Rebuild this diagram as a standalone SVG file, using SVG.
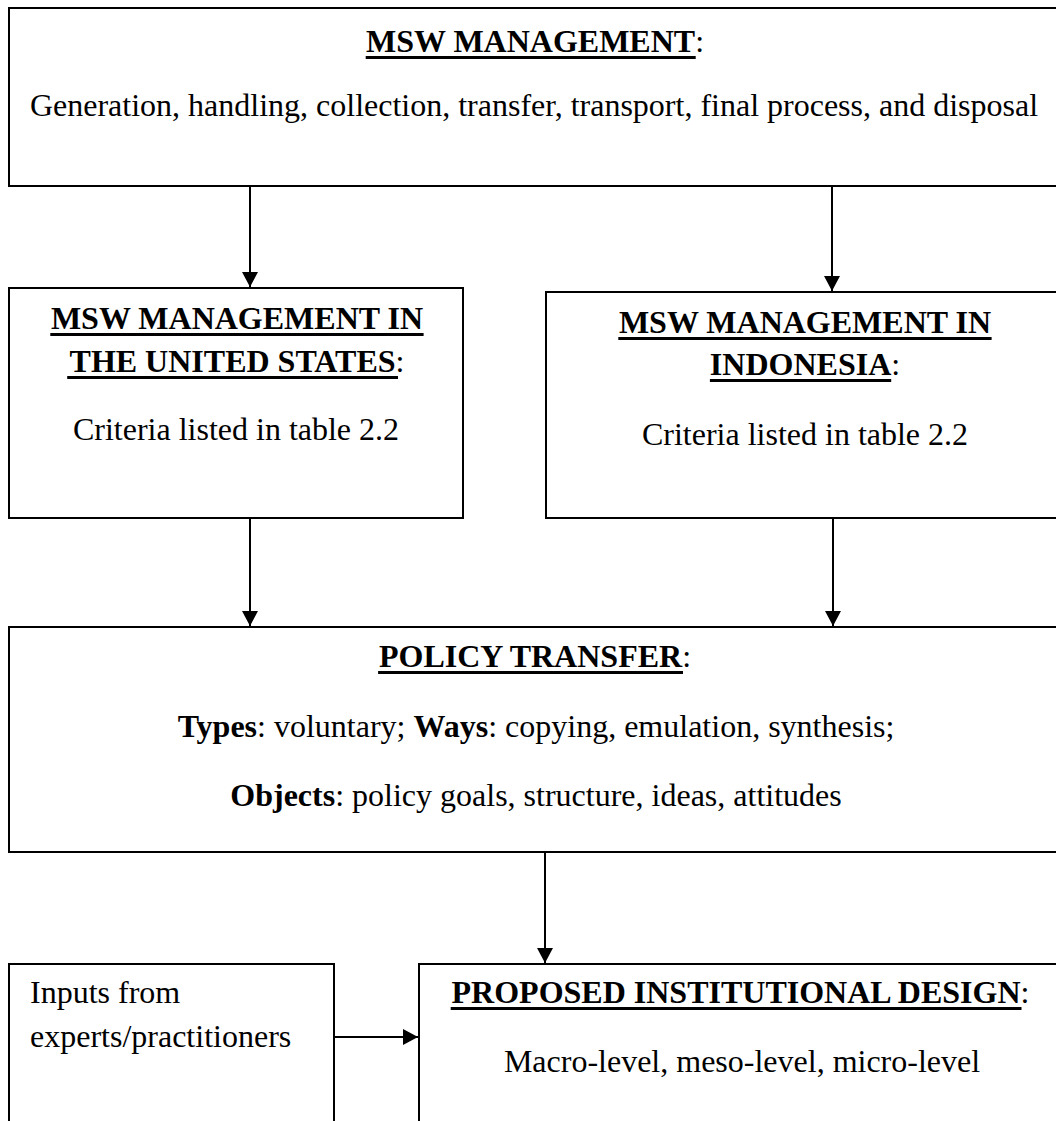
<svg xmlns="http://www.w3.org/2000/svg" width="1056" height="1121" viewBox="0 0 1056 1121">
<defs>
<style>
.box{fill:#fff;stroke:#000;stroke-width:2}
.t{font-family:"Liberation Serif","Times New Roman",serif;font-size:32px;fill:#000}
.b{font-weight:bold}
.c{text-anchor:middle}
.ul{fill:#000}
.conn{stroke:#000;stroke-width:2;fill:none}
</style>
<marker id="ah" markerWidth="15" markerHeight="16" refX="15" refY="8" orient="auto" markerUnits="userSpaceOnUse">
<path d="M0,0 L15,8 L0,16 Z" fill="#000"/>
</marker>
</defs>
<rect width="1056" height="1121" fill="#fff"/>

<g id="node-msw">
<rect class="box" x="9" y="8" width="1070" height="178"/>
<text class="t c" x="535" y="52"><tspan class="b">MSW MANAGEMENT</tspan>:</text>
<rect class="ul" x="365.7" y="56" width="330" height="3"/>
<text class="t c" x="534" y="116">Generation, handling, collection, transfer, transport, final process, and disposal</text>
</g>

<g id="node-us">
<rect class="box" x="9" y="288" width="454" height="230"/>
<text class="t c" x="237" y="329"><tspan class="b">MSW MANAGEMENT IN</tspan></text>
<rect class="ul" x="50.3" y="333" width="373.3" height="3"/>
<text class="t c" x="237" y="372"><tspan class="b">THE UNITED STATES</tspan>:</text>
<rect class="ul" x="67.2" y="376" width="330.8" height="3"/>
<text class="t c" x="236" y="440">Criteria listed in table 2.2</text>
</g>

<g id="node-id">
<rect class="box" x="546" y="292" width="530" height="226"/>
<text class="t c" x="805" y="333"><tspan class="b">MSW MANAGEMENT IN</tspan></text>
<rect class="ul" x="618.3" y="337" width="373.3" height="3"/>
<text class="t c" x="805" y="375"><tspan class="b">INDONESIA</tspan>:</text>
<rect class="ul" x="709.9" y="379" width="181.3" height="3"/>
<text class="t c" x="805" y="445">Criteria listed in table 2.2</text>
</g>

<g id="node-policy">
<rect class="box" x="9" y="627" width="1070" height="225"/>
<text class="t c" x="535" y="667"><tspan class="b">POLICY TRANSFER</tspan>:</text>
<rect class="ul" x="378.1" y="671" width="304.9" height="3"/>
<text class="t c" x="536" y="737"><tspan class="b">Types</tspan>: voluntary; <tspan class="b">Ways</tspan>: copying, emulation, synthesis;</text>
<text class="t c" x="536" y="806"><tspan class="b">Objects</tspan>: policy goals, structure, ideas, attitudes</text>
</g>

<g id="node-inputs">
<rect class="box" x="9" y="964" width="325" height="180"/>
<text class="t" x="30" y="1003">Inputs from</text>
<text class="t" x="30" y="1047">experts/practitioners</text>
</g>

<g id="node-design">
<rect class="box" x="419" y="964" width="660" height="180"/>
<text class="t c" x="740.5" y="1003"><tspan class="b">PROPOSED INSTITUTIONAL DESIGN</tspan>:</text>
<rect class="ul" x="450.7" y="1007" width="570.8" height="3"/>
<text class="t c" x="742" y="1072">Macro-level, meso-level, micro-level</text>
</g>

<g id="connectors">
<line class="conn" x1="250" y1="187" x2="250" y2="287" marker-end="url(#ah)"/>
<line class="conn" x1="832" y1="187" x2="832" y2="291" marker-end="url(#ah)"/>
<line class="conn" x1="250" y1="519" x2="250" y2="626" marker-end="url(#ah)"/>
<line class="conn" x1="833" y1="519" x2="833" y2="626" marker-end="url(#ah)"/>
<line class="conn" x1="545" y1="853" x2="545" y2="963" marker-end="url(#ah)"/>
<line class="conn" x1="335" y1="1037" x2="418" y2="1037" marker-end="url(#ah)"/>
</g>
</svg>
